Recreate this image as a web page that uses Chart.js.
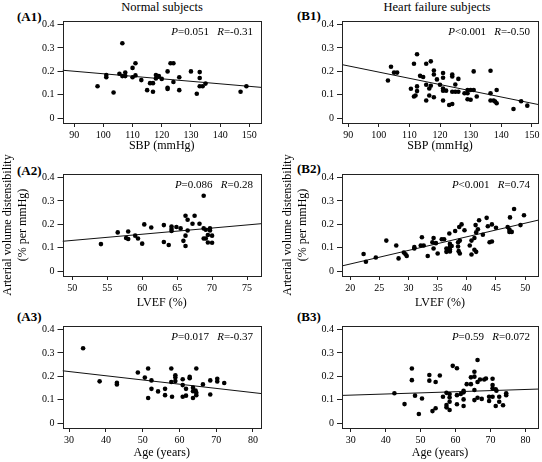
<!DOCTYPE html>
<html>
<head>
<meta charset="utf-8">
<script src="https://cdn.jsdelivr.net/npm/chart.js@4.4.1/dist/chart.umd.min.js"></script>
<style>
  body { margin: 0; background: #fff; }
  #wrap { position: relative; width: 542px; height: 462px; overflow: hidden; font-family: "Liberation Serif", "Times New Roman", serif; color: #000; }
  canvas { position: absolute; }
  .lbl { position: absolute; font-weight: bold; font-size: 13px; line-height: 13px; }
  .ttl { position: absolute; font-size: 12.5px; line-height: 13px; width: 200px; text-align: center; }
</style>
</head>
<body>
<div id="wrap">
  <div class="ttl" style="left:62px; top:1px">Normal subjects</div>
  <div class="ttl" style="left:337px; top:1px">Heart failure subjects</div>
  <div class="lbl" style="left:17px; top:10px">(A1)</div>
  <div class="lbl" style="left:297px; top:9px">(B1)</div>
  <div class="lbl" style="left:17px; top:164px">(A2)</div>
  <div class="lbl" style="left:297px; top:162px">(B2)</div>
  <div class="lbl" style="left:17px; top:310px">(A3)</div>
  <div class="lbl" style="left:297px; top:310px">(B3)</div>
  <canvas id="a1" width="271" height="155" style="left:0; top:0"></canvas>
  <canvas id="b1" width="262" height="155" style="left:280px; top:0"></canvas>
  <canvas id="a2" width="271" height="160" style="left:0; top:152px"></canvas>
  <canvas id="b2" width="262" height="160" style="left:280px; top:152px"></canvas>
  <canvas id="a3" width="271" height="157" style="left:0; top:305px"></canvas>
  <canvas id="b3" width="262" height="157" style="left:280px; top:305px"></canvas>
</div>
<script>
// ---- data ----
const yTicks = [0, 0.1, 0.2, 0.3, 0.4];
const sbpTicks = [90, 100, 110, 120, 130, 140, 150];
const lvefTicksA = [50, 55, 60, 65, 70, 75];
const lvefTicksB = [20, 25, 30, 35, 40, 45, 50];
const ageTicks = [30, 40, 50, 60, 70, 80];

// (A1) normal, SBP
const a1X = [98, 101, 101, 103.5, 105.5, 106.5, 106.5, 107.5, 107.5, 110, 110, 111, 111, 113, 115, 116, 117, 117, 118, 118, 119, 120, 122, 122, 122, 123, 124, 124, 126, 126, 130, 132, 133, 133, 133, 134, 135, 147, 149];
const a1Y = [0.137, 0.185, 0.175, 0.11, 0.19, 0.32, 0.18, 0.195, 0.18, 0.215, 0.175, 0.235, 0.183, 0.163, 0.12, 0.15, 0.15, 0.113, 0.185, 0.17, 0.18, 0.168, 0.2, 0.13, 0.125, 0.235, 0.235, 0.155, 0.175, 0.12, 0.2, 0.105, 0.197, 0.172, 0.137, 0.137, 0.148, 0.113, 0.137];
const a1FitX = [86, 154];
const a1FitY = [0.205, 0.132];

// (B1) heart failure, SBP
const b1X = [103, 104, 105, 106, 110.5, 111.5, 111.5, 112, 112.5, 112.5, 112.5, 113.5, 114.5, 115.5, 115.5, 115.5, 116.5, 116.5, 117, 117, 118, 118, 118, 119, 120, 121, 121, 121, 121, 122, 121, 123, 124, 124, 124, 124, 125, 126, 125, 126, 128, 129, 129, 130, 131, 129, 130, 131, 132, 136.5, 136.5, 136.5, 137.5, 138, 138.5, 138.5, 144, 146.5, 148.5];
const b1Y = [0.161, 0.22, 0.195, 0.195, 0.126, 0.233, 0.093, 0.097, 0.116, 0.136, 0.273, 0.181, 0.176, 0.233, 0.143, 0.076, 0.127, 0.097, 0.139, 0.243, 0.204, 0.187, 0.09, 0.166, 0.143, 0.193, 0.173, 0.127, 0.118, 0.118, 0.076, 0.057, 0.061, 0.187, 0.178, 0.113, 0.113, 0.113, 0.144, 0.168, 0.107, 0.107, 0.121, 0.121, 0.121, 0.081, 0.079, 0.2, 0.093, 0.203, 0.107, 0.076, 0.076, 0.072, 0.121, 0.064, 0.04, 0.073, 0.054];
const b1FitX = [88, 152];
const b1FitY = [0.229, 0.059];

// (A2) normal, LVEF
const a2X = [54.1, 56.5, 57.7, 58, 58, 59, 59.4, 60, 60.3, 61.3, 63.1, 63.1, 63.8, 64.2, 64.2, 64.2, 64.9, 65.5, 65.9, 66.2, 66.2, 66.2, 66.5, 66.5, 67.2, 67.5, 68.2, 68.8, 68.8, 68.8, 69.1, 69.1, 69.4, 69.4, 69.7, 69.7, 70, 70];
const a2Y = [0.116, 0.166, 0.142, 0.138, 0.17, 0.152, 0.14, 0.118, 0.2, 0.187, 0.197, 0.125, 0.112, 0.191, 0.18, 0.172, 0.189, 0.183, 0.13, 0.237, 0.152, 0.108, 0.22, 0.174, 0.203, 0.237, 0.203, 0.322, 0.183, 0.14, 0.14, 0.177, 0.123, 0.155, 0.183, 0.174, 0.152, 0.122];
const a2FitX = [48.6, 77];
const a2FitY = [0.128, 0.203];

// (B2) heart failure, LVEF
const b2X = [22.3, 22.7, 24.4, 26.2, 27.9, 28.3, 29.2, 29.5, 29.7, 31, 31, 32.1, 32.6, 32.3, 33.3, 34.1, 34.3, 34.3, 34.7, 35, 35.7, 36.1, 36.5, 36.5, 37, 37.1, 37.1, 37.1, 37.1, 37.4, 38, 38.5, 38.5, 38.6, 38.8, 38.7, 39.1, 38.8, 39.6, 40.5, 40.8, 40.8, 41.3, 41.3, 41.5, 41.6, 41.6, 41.9, 42.1, 42.75, 43.4, 43.6, 43.9, 44.3, 44.3, 45, 47, 47.3, 47.3, 47.4, 47.7, 48.1, 49.2, 49.8];
const b2Y = [0.074, 0.041, 0.059, 0.131, 0.11, 0.055, 0.08, 0.073, 0.065, 0.097, 0.103, 0.11, 0.11, 0.145, 0.065, 0.124, 0.142, 0.097, 0.12, 0.076, 0.137, 0.137, 0.097, 0.083, 0.161, 0.117, 0.104, 0.093, 0.085, 0.108, 0.172, 0.124, 0.106, 0.086, 0.131, 0.189, 0.2, 0.076, 0.175, 0.11, 0.131, 0.072, 0.092, 0.142, 0.197, 0.166, 0.083, 0.179, 0.218, 0.156, 0.228, 0.192, 0.124, 0.127, 0.2, 0.186, 0.189, 0.178, 0.168, 0.23, 0.168, 0.266, 0.197, 0.239];
const b2FitX = [18.6, 52.2];
const b2FitY = [0.023, 0.218];

// (A3) normal, age
const a3X = [33.8, 38.3, 43, 43, 48.7, 50.6, 51.5, 51.5, 52.4, 52.4, 54.2, 56.1, 56.1, 57.8, 57.8, 58, 58.9, 58.9, 58.9, 60.9, 60.9, 60.9, 61.8, 61.8, 62.8, 62.8, 63.7, 63.7, 63.7, 64.4, 64.6, 64.6, 64.6, 66.4, 68.4, 68.4, 70.3, 70.3, 72.2];
const a3Y = [0.32, 0.179, 0.173, 0.166, 0.217, 0.195, 0.234, 0.108, 0.183, 0.147, 0.136, 0.147, 0.12, 0.234, 0.176, 0.113, 0.195, 0.18, 0.205, 0.188, 0.163, 0.113, 0.147, 0.118, 0.198, 0.192, 0.108, 0.152, 0.137, 0.14, 0.234, 0.12, 0.13, 0.166, 0.183, 0.123, 0.19, 0.178, 0.172];
const a3FitX = [28.2, 82.2];
const a3FitY = [0.224, 0.127];

// (B3) heart failure, age
const b3X = [42.5, 45.4, 47.5, 47.5, 48.4, 49.5, 50.4, 52.5, 52.5, 53.4, 54.3, 54.3, 55.5, 56.4, 57.4, 57.4, 57.4, 58.3, 58.3, 58.3, 58.3, 59.2, 60.4, 60.4, 60.4, 61.5, 62.3, 62.3, 62.3, 62.3, 63.2, 64.4, 64.4, 65.4, 65.4, 65.4, 65.4, 66.3, 66.3, 66.3, 67, 67.5, 68.2, 68.7, 69.6, 69.6, 70.6, 70.6, 70.6, 70.6, 71.5, 71.7, 71.5, 72.5, 72.5, 73.6, 74.5, 74.5];
const b3Y = [0.128, 0.082, 0.234, 0.184, 0.118, 0.04, 0.106, 0.206, 0.182, 0.052, 0.064, 0.176, 0.204, 0.113, 0.13, 0.078, 0.068, 0.125, 0.11, 0.092, 0.057, 0.245, 0.235, 0.12, 0.081, 0.125, 0.139, 0.132, 0.102, 0.074, 0.167, 0.167, 0.196, 0.22, 0.199, 0.142, 0.099, 0.27, 0.176, 0.109, 0.187, 0.104, 0.187, 0.191, 0.113, 0.095, 0.19, 0.163, 0.149, 0.113, 0.145, 0.139, 0.074, 0.113, 0.092, 0.077, 0.128, 0.12];
const b3FitX = [27.5, 83.6];
const b3FitY = [0.119, 0.146];

const pLabels = ['=0.051', '<0.001', '=0.086', '<0.001', '=0.017', '=0.59'];
const rLabels = ['=-0.31', '=-0.50', '=0.28', '=0.74', '=-0.37', '=0.072'];

const FONT = '"Liberation Serif", "Times New Roman", serif';

// frame around plot area + P / R annotation
const boxAndStats = {
  id: 'boxAndStats',
  afterDraw(chart, args, opts) {
    const { ctx, chartArea: a } = chart;
    ctx.save();
    ctx.strokeStyle = '#222';
    ctx.lineWidth = 1;
    const l = Math.round(a.left) + 0.5, t = Math.round(a.top) + 0.5;
    ctx.strokeRect(l, t, Math.round(a.right) - Math.round(a.left), Math.round(a.bottom) - Math.round(a.top));

    const parts = [
      ['italic ', 'P'], ['', opts.p], ['', '   '], ['italic ', 'R'], ['', opts.r]
    ];
    let w = 0;
    parts.forEach(p => { ctx.font = p[0] + '11px ' + FONT; w += ctx.measureText(p[1]).width; });
    let x = a.right - 8 - w;
    ctx.fillStyle = '#000';
    ctx.textBaseline = 'middle';
    parts.forEach(p => {
      ctx.font = p[0] + '11px ' + FONT;
      ctx.fillText(p[1], x, a.top + 11);
      x += ctx.measureText(p[1]).width;
    });
    ctx.restore();
  }
};

function makePanel(id, xs, ys, fitX, fitY, xRange, xTicks, xTitle, yTitle, idx, pad, yW, xH) {
  const pts = xs.map((x, i) => ({ x: x, y: ys[i] }));
  const fit = fitX.map((x, i) => ({ x: x, y: fitY[i] }));
  return new Chart(document.getElementById(id).getContext('2d'), {
    type: 'scatter',
    data: {
      datasets: [{
        data: pts,
        pointRadius: 2.3,
        pointBackgroundColor: '#000',
        pointBorderWidth: 0
      }, {
        type: 'line',
        data: fit,
        borderColor: '#111',
        borderWidth: 1,
        pointRadius: 0,
        fill: false
      }]
    },
    options: {
      responsive: false,
      animation: false,
      layout: { padding: { top: pad.top, right: pad.right, left: 0, bottom: 0 } },
      plugins: {
        legend: { display: false },
        tooltip: { enabled: false },
        boxAndStats: { p: pLabels[idx], r: rLabels[idx] }
      },
      scales: {
        x: {
          type: 'linear',
          min: xRange[0], max: xRange[1],
          afterBuildTicks: s => { s.ticks = xTicks.map(v => ({ value: v })); },
          afterFit: s => { s.height = xH; },
          border: { display: false },
          grid: { drawOnChartArea: false, drawTicks: true, tickLength: 4, color: '#222' },
          ticks: { autoSkip: false, maxRotation: 0, padding: 2, color: '#000', font: { family: FONT, size: 10 } },
          title: { display: true, text: xTitle, color: '#000', padding: { top: 0, bottom: 1.5 }, font: { family: FONT, size: 12 } }
        },
        y: {
          min: -0.02, max: 0.415,
          afterBuildTicks: s => { s.ticks = yTicks.map(v => ({ value: v })); },
          afterFit: s => { s.width = yW; },
          border: { display: false },
          grid: { drawOnChartArea: false, drawTicks: true, tickLength: 5, color: '#222' },
          ticks: {
            padding: 3, color: '#000', font: { family: FONT, size: 10 },
            callback: v => v === 0 ? '0' : v.toFixed(1)
          },
          title: { display: !!yTitle, text: yTitle || '', color: '#000', padding: { top: 0, bottom: 0 }, font: { family: FONT, size: 12, lineHeight: 1.25 } }
        }
      }
    },
    plugins: [boxAndStats]
  });
}

const yTitle = ['Arterial volume distensibility', '(% per mmHg)'];

makePanel('a1', a1X, a1Y, a1FitX, a1FitY, [86, 154], sbpTicks, 'SBP (mmHg)', null, 0, { top: 21, right: 10 }, 62.5, 32);
makePanel('b1', b1X, b1Y, b1FitX, b1FitY, [88, 152], sbpTicks, 'SBP (mmHg)', null, 1, { top: 21, right: 2 }, 62, 32);
makePanel('a2', a2X, a2Y, a2FitX, a2FitY, [48.6, 77], lvefTicksA, 'LVEF (%)', yTitle, 2, { top: 22, right: 10 }, 62.5, 36);
makePanel('b2', b2X, b2Y, b2FitX, b2FitY, [18.6, 52.2], lvefTicksB, 'LVEF (%)', yTitle, 3, { top: 22, right: 2 }, 62, 36);
makePanel('a3', a3X, a3Y, a3FitX, a3FitY, [28.2, 82.2], ageTicks, 'Age (years)', null, 4, { top: 21, right: 10 }, 62.5, 34);
makePanel('b3', b3X, b3Y, b3FitX, b3FitY, [27.5, 83.6], ageTicks, 'Age (years)', null, 5, { top: 21, right: 2 }, 62, 34);
</script>
</body>
</html>
